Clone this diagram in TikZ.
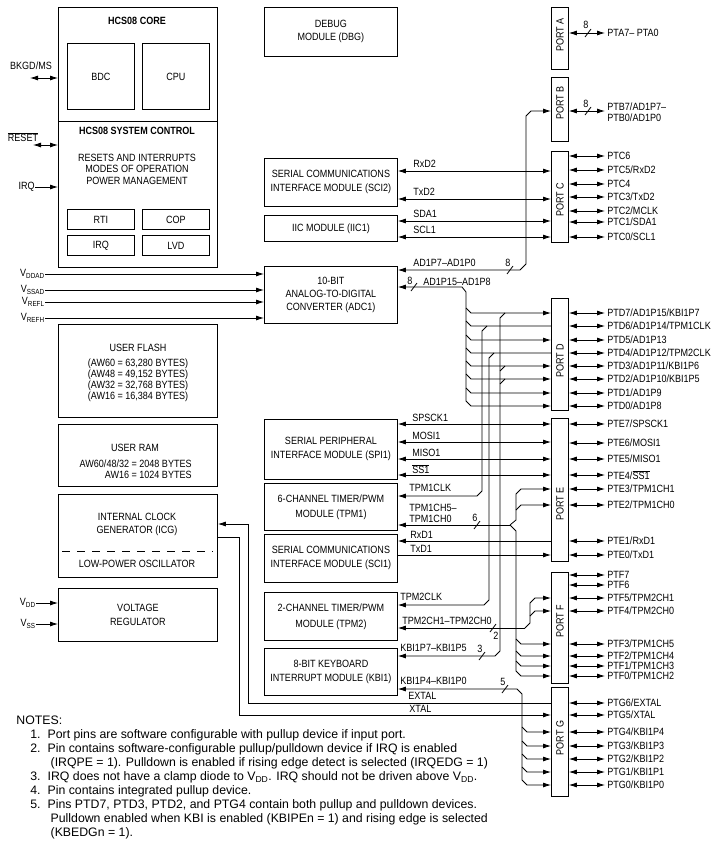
\documentclass[tikz,border=0pt]{standalone}
\usepackage{fontspec}
\setmainfont{Liberation Sans}
\newfontfamily\condfont{Liberation Sans}[FakeStretch=0.86]
\usetikzlibrary{arrows.meta,calc,positioning}

\newcommand{\ovbar}[1]{$\overline{\hbox{#1}}$}
\newcommand{\dfont}[1]{\condfont\fontsize{10.5}{#1}\selectfont}
\newcommand{\diagfont}{\dfont{14}}

\tikzset{
  blk/.style={draw,anchor=north west,minimum width=133pt,inner sep=0pt,align=center,font=\diagfont},
  mem/.style={draw,anchor=north west,minimum width=159pt,inner sep=0pt,align=center,font=\diagfont},
  sub/.style={draw,anchor=north west,minimum width=67pt,inner sep=0pt,font=\diagfont},
  prt/.style={draw,anchor=north west,minimum width=17pt,inner sep=0pt},
  prtname/.style={rotate=90,inner sep=0pt,font=\diagfont},
  pin/.style={anchor=west,inner sep=2pt,align=left,font=\dfont{11}},
  sig/.style={anchor=west,inner sep=0pt,align=left,font=\dfont{11}},
  ttl/.style={inner sep=0pt,font=\diagfont\bfseries},
  txt/.style={inner sep=0pt,align=center,font=\dfont{11.5}}
}

\begin{document}
\begin{tikzpicture}[x=1pt,y=-1pt,line width=0.8pt,>={Latex[length=8pt,width=5pt]}]
  \useasboundingbox (0,0) rectangle (726,846);

  % core and system control
  \node[mem,minimum height=114pt] (core) at (58,7) {};
  \node[mem,minimum height=146pt] (sysctl) at (58,121) {};
  \node[ttl] at (137,21) {HCS08 CORE};
  \node[sub,minimum height=66pt] (bdc) at (67,43) {BDC};
  \node[sub,minimum height=66pt] (cpu) at (142,43) {CPU};
  \node[ttl] at (137,131) {HCS08 SYSTEM CONTROL};
  \node[txt] at (137,169) {RESETS AND INTERRUPTS\\MODES OF OPERATION\\POWER MANAGEMENT};
  \node[sub,minimum height=20pt] (rti) at (67,209) {RTI};
  \node[sub,minimum height=20pt] (cop) at (142,209) {COP};
  \node[sub,minimum height=20pt] (irqm) at (67,235) {IRQ};
  \node[sub,minimum height=20pt] (lvd) at (142,235) {LVD};

  \coordinate (bkgd) at (30,78);
  \node[txt] at (31,66) {BKGD/MS};
  \draw[<->] (bkgd) -- (core.west |- bkgd);
  \coordinate (rst) at (33,145);
  \node[txt] at (23,137) {\ovbar{RESET}};
  \draw[<->] (rst) -- (sysctl.west |- rst);
  \node[txt,anchor=east] (irqpin) at (35,187) {IRQ};
  \draw[->] (irqpin.east) -- (sysctl.west |- irqpin);

  % memories, clock, regulator
  \node[mem,minimum height=93pt] (flash) at (58,324) {};
  \node[txt,font=\dfont{11}] at (138,373) {USER FLASH\\[4pt](AW60 = 63,280 BYTES)\\(AW48 = 49,152 BYTES)\\(AW32 = 32,768 BYTES)\\(AW16 = 16,384 BYTES)};
  \node[mem,minimum height=62pt] (ram) at (58,424) {};
  \node[txt] at (135,448) {USER RAM};
  \node[txt,align=right,anchor=east] at (192,469) {AW60/48/32 = 2048 BYTES\\AW16 = 1024 BYTES};
  \node[mem,minimum height=83pt] (icg) at (58,494) {};
  \node[txt,font=\dfont{13}] at (137,524) {INTERNAL CLOCK\\GENERATOR (ICG)};
  \draw[dash pattern=on 7.5pt off 7.5pt] (62,551) -- (213,551);
  \node[txt] at (137,564) {LOW-POWER OSCILLATOR};
  \node[mem,minimum height=53pt] (vreg) at (58,588) {VOLTAGE\\REGULATOR};
  \node[txt,anchor=east] (vdd) at (36,603) {V\textsubscript{DD}};
  \node[txt,anchor=east] (vss) at (36,624) {V\textsubscript{SS}};
  \draw[->] (vdd.east) -- (vreg.west |- vdd);
  \draw[->] (vss.east) -- (vreg.west |- vss);

  % peripheral modules
  \node[blk,minimum height=49pt,font=\dfont{13}] (dbg) at (264,7) {DEBUG\\MODULE (DBG)};
  \node[blk,minimum height=48pt] (sci2) at (264,158) {SERIAL COMMUNICATIONS\\INTERFACE MODULE (SCI2)};
  \node[blk,minimum height=26pt] (iic) at (264,215) {IIC MODULE (IIC1)};
  \node[blk,minimum height=57pt,font=\dfont{13}] (adc) at (264,266) {10-BIT\\ANALOG-TO-DIGITAL\\CONVERTER (ADC1)};
  \node[blk,minimum height=60pt] (spi) at (264,419) {SERIAL PERIPHERAL\\INTERFACE MODULE (SPI1)};
  \node[blk,minimum height=47pt,font=\dfont{15}] (tpm1) at (264,483) {6-CHANNEL TIMER/PWM\\MODULE (TPM1)};
  \node[blk,minimum height=48pt] (sci1) at (264,534) {SERIAL COMMUNICATIONS\\INTERFACE MODULE (SCI1)};
  \node[blk,minimum height=48pt,font=\dfont{16}] (tpm2) at (264,592) {2-CHANNEL TIMER/PWM\\MODULE (TPM2)};
  \node[blk,minimum height=47pt] (kbi) at (264,648) {8-BIT KEYBOARD\\INTERRUPT MODULE (KBI1)};

  \foreach \y/\n/\t in {274/vddad/DDAD,290/vssad/SSAD,302/vrefl/REFL,318/vrefh/REFH}{
    \node[txt,anchor=east] (\n) at (45,\y) {V\textsubscript{\t}};
    \draw[->] (\n.east) -- (adc.west |- \n);
  }

  % ports
  \node[prt,minimum height=62pt] (porta) at (551,7) {};
  \node[prt,minimum height=64pt] (portb) at (551,77) {};
  \node[prt,minimum height=91pt] (portc) at (551,151) {};
  \node[prt,minimum height=112pt] (portd) at (551,298) {};
  \node[prt,minimum height=143pt] (porte) at (551,418) {};
  \node[prt,minimum height=111pt] (portf) at (551,572) {};
  \node[prt,minimum height=109pt] (portg) at (551,687) {};
  \foreach \p/\y/\t in {a/35/A,b/103/B,c/200/C,d/361/D,e/504/E,f/621/F,g/738/G}
    \node[prtname] at (port\p.center |- 0,\y) {PORT \t};

  % port pins
  \node[pin] (pta) at (605,33) {PTA7– PTA0};
  \draw[<->] (porta.east |- pta) -- (pta.west);
  \node[pin] (ptb) at (605,112) {PTB7/AD1P7–\\PTB0/AD1P0};
  \draw[<->] (portb.east |- 0,111) -- (ptb.west |- 0,111);
  \foreach \y/\n/\t in {156/c6/PTC6,170/c5/{PTC5/RxD2},184/c4/PTC4,197/c3/{PTC3/TxD2},
      211/c2/{PTC2/MCLK},222/c1/{PTC1/SDA1},237/c0/{PTC0/SCL1}}{
    \node[pin] (pt\n) at (605,\y) {\t};
    \draw[<->] (portc.east |- pt\n) -- (pt\n.west);
  }
  \foreach \y/\n/\t in {313/d7/{PTD7/AD1P15/KBI1P7},326/d6/{PTD6/AD1P14/TPM1CLK},340/d5/{PTD5/AD1P13},
      353/d4/{PTD4/AD1P12/TPM2CLK},366/d3/{PTD3/AD1P11/KBI1P6},379/d2/{PTD2/AD1P10/KBI1P5},
      393/d1/{PTD1/AD1P9},406/d0/{PTD0/AD1P8}}{
    \node[pin] (pt\n) at (605,\y) {\t};
    \draw[<->] (portd.east |- pt\n) -- (pt\n.west);
  }
  \foreach \y/\n/\t in {424/e7/{PTE7/SPSCK1},443/e6/{PTE6/MOSI1},459/e5/{PTE5/MISO1},475/e4/{PTE4/\ovbar{SS1}},
      489/e3/{PTE3/TPM1CH1},505/e2/{PTE2/TPM1CH0},541/e1/{PTE1/RxD1},555/e0/{PTE0/TxD1}}{
    \node[pin] (pt\n) at (605,\y) {\t};
    \draw[<->] (porte.east |- 0,\y) -- (pt\n.west |- 0,\y);
  }
  \foreach \y/\n/\t in {575/f7/PTF7,585/f6/PTF6,598/f5/{PTF5/TPM2CH1},611/f4/{PTF4/TPM2CH0},
      644/f3/{PTF3/TPM1CH5},656/f2/{PTF2/TPM1CH4},666/f1/{PTF1/TPM1CH3},676/f0/{PTF0/TPM1CH2}}{
    \node[pin] (pt\n) at (605,\y) {\t};
    \draw[<->] (portf.east |- pt\n) -- (pt\n.west);
  }
  \foreach \y/\n/\t in {703/g6/{PTG6/EXTAL},715/g5/{PTG5/XTAL},732/g4/{PTG4/KBI1P4},746/g3/{PTG3/KBI1P3},
      759/g2/{PTG2/KBI1P2},772/g1/{PTG1/KBI1P1},785/g0/{PTG0/KBI1P0}}{
    \node[pin] (pt\n) at (605,\y) {\t};
    \draw[<->] (portg.east |- pt\n) -- (pt\n.west);
  }

  % module to port signals
  \foreach \y/\t in {171/RxD2,199/TxD2}{
    \draw[<->] (sci2.east |- 0,\y) -- (portc.west |- 0,\y);
    \node[sig] at (413,\y-7) {\t};
  }
  \foreach \y/\t in {221/SDA1,237/SCL1}{
    \draw[<->] (iic.east |- 0,\y) -- (portc.west |- 0,\y);
    \node[sig] at (413,\y-7) {\t};
  }
  \foreach \y/\t in {424/SPSCK1,442/MOSI1,459/MISO1,475/\ovbar{SS1}}{
    \draw[<->] (spi.east |- 0,\y) -- (porte.west |- 0,\y);
    \node[sig] at (412,\y-6) {\t};
  }
  \draw[->] (porte.west |- 0,541) -- (sci1.east |- 0,541);
  \node[sig] at (410,535) {RxD1};
  \draw[->] (sci1.east |- 0,555) -- (porte.west |- 0,555);
  \node[sig] at (410,549) {TxD1};

  % ADC buses
  \draw[<->] (adc.east |- 0,270) -- (520,270) -- (526,264) -- (526,116) -- (531,111) -- (portb.west |- 0,111);
  \node[sig] at (413,263) {AD1P7–AD1P0};
  \draw[<->] (adc.east |- 0,287) -- (462,287) -- (466,292) -- (466,401) -- (471,406) -- (portd.west |- 0,406);
  \node[sig] at (423,282) {AD1P15–AD1P8};
  \foreach \y in {313,340,366,379,393}
    \draw[->] (466,\y-5) -- (471,\y) -- (portd.west |- 0,\y);
  \foreach \y in {326,353}
    \draw (466,\y-5) -- (471,\y) -- (portd.west |- 0,\y);

  % timer clocks and keyboard inputs from port D
  \draw[->] (487,326) -- (482,331) -- (482,491) -- (477,496) -- (tpm1.east |- 0,496);
  \node[sig] at (409,488) {TPM1CLK};
  \draw[->] (494,353) -- (489,358) -- (489,600) -- (484,605) -- (tpm2.east |- 0,605);
  \node[sig] at (400,597) {TPM2CLK};
  \draw[->] (505,313) -- (500,318) -- (500,651) -- (495,656) -- (kbi.east |- 0,656);
  \foreach \y in {366,379}
    \draw (505,\y) -- (500,\y+5);
  \node[sig] at (400,648) {KBI1P7–KBI1P5};

  % TPM1 channels
  \draw[->] (510,525) -- (tpm1.east |- 0,525);
  \node[sig] at (409,513) {TPM1CH5–\\TPM1CH0};
  \draw[->] (510,525) -- (516,520) -- (516,494) -- (521,489) -- (porte.west |- 0,489);
  \draw[->] (516,510) -- (521,505) -- (porte.west |- 0,505);
  \draw[->] (510,525) -- (516,531) -- (516,671) -- (521,676) -- (portf.west |- 0,676);
  \foreach \y in {644,656,666}
    \draw[->] (516,\y-5) -- (521,\y) -- (portf.west |- 0,\y);

  % TPM2 channels
  \draw[->] (525,628) -- (tpm2.east |- 0,628);
  \node[sig] at (402,621) {TPM2CH1–TPM2CH0};
  \draw[->] (525,628) -- (530,623) -- (530,603) -- (535,598) -- (portf.west |- 0,598);
  \draw[->] (530,616) -- (535,611) -- (portf.west |- 0,611);

  % KBI low inputs from port G
  \draw[<->] (kbi.east |- 0,689) -- (517,689) -- (522,694) -- (522,780) -- (527,785) -- (portg.west |- 0,785);
  \node[sig] at (400,681) {KBI1P4–KBI1P0};
  \foreach \y in {732,746,759,772}
    \draw[->] (522,\y-5) -- (527,\y) -- (portg.west |- 0,\y);

  % oscillator pins
  \draw[->] (portg.west |- 0,703) -- (248,703) -- (248,524) -- (icg.east |- 0,524);
  \node[sig] at (408,696) {EXTAL};
  \draw[->] (icg.east |- 0,537) -- (239,537) -- (239,715) -- (portg.west |- 0,715);
  \node[sig] at (409,709) {XTAL};

  % bus widths
  \foreach \x/\y/\n/\nx/\ny in {588/33/8/586/25,588/111/8/586/104,510/270/8/508/263,414/287/8/410/281,
      477/525/6/475/518,493/628/2/496/636,482/656/3/480/649,505/689/5/503/682}{
    \draw (\x,\y) ++(-3pt,-4pt) -- ++(6pt,8pt);
    \node[inner sep=0pt,font=\diagfont] at (\nx,\ny) {\n};
  }

  % notes
  \node[anchor=north west,inner sep=0pt,font=\fontsize{12.3}{14}\selectfont] (notes) at (16,714) {%
    \begin{tabular}{@{}r@{\hspace{7pt}}l@{}}
      \multicolumn{2}{@{}l}{NOTES:}\\
      \hspace{14pt}1. & Port pins are software configurable with pullup device if input port.\\
      2. & Pin contains software-configurable pullup/pulldown device if IRQ is enabled\\
         & \hspace{3pt}(IRQPE = 1). Pulldown is enabled if rising edge detect is selected (IRQEDG = 1)\\
      3. & IRQ does not have a clamp diode to V\textsubscript{DD}. IRQ should not be driven above V\textsubscript{DD}.\\
      4. & Pin contains integrated pullup device.\\
      5. & Pins PTD7, PTD3, PTD2, and PTG4 contain both pullup and pulldown devices.\\
         & \hspace{3pt}Pulldown enabled when KBI is enabled (KBIPEn = 1) and rising edge is selected\\
         & \hspace{3pt}(KBEDGn = 1).
    \end{tabular}};
\end{tikzpicture}
\end{document}
